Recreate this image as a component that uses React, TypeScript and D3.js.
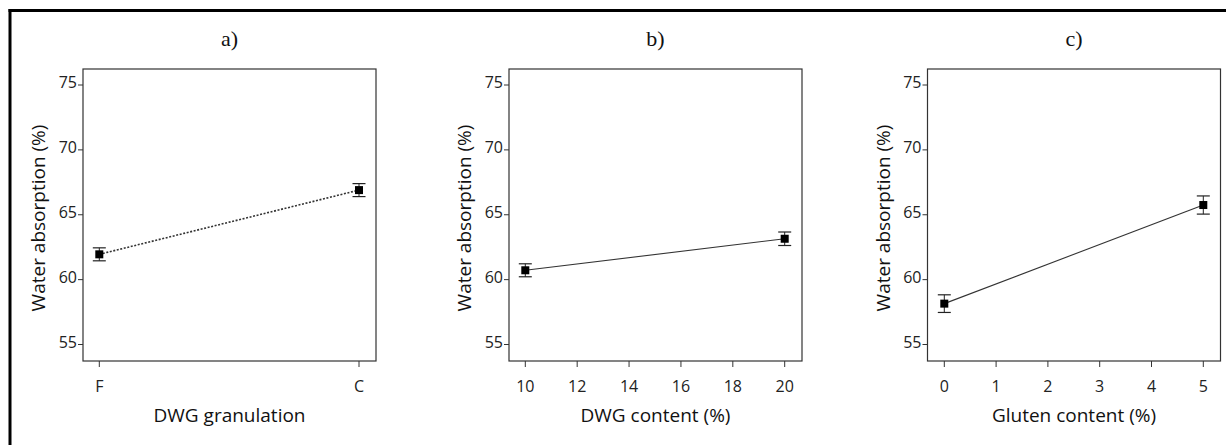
import React from "react";
import * as d3 from "d3";

const panelTitles = ["a)", "b)", "c)"];
const xLabels = ["DWG granulation", "DWG content (%)", "Gluten content (%)"];
const yLabel = "Water absorption (%)";
const yTicks = [55, 60, 65, 70, 75];

const granCategories = ["F", "C"];
const granMeans = [61.95, 66.9];
const granErr = [0.5, 0.5];

const dwgLevels = [10, 20];
const dwgTicks = [10, 12, 14, 16, 18, 20];
const dwgMeans = [60.72, 63.15];
const dwgErr = [0.5, 0.52];

const glutenLevels = [0, 5];
const glutenTicks = [0, 1, 2, 3, 4, 5];
const glutenMeans = [58.15, 65.75];
const glutenErr = [0.68, 0.7];

const W = 1226;
const H = 445;
const sans = "'Open Sans', 'Noto Sans', sans-serif";

type PanelSpec = {
  left: number;
  right: number;
  x0: number;
  x1: number;
  xs: (string | number)[];
  tickVals: (string | number)[];
  means: number[];
  errs: number[];
  dotted: boolean;
  title: string;
  xLabel: string;
};

function Panel({ p }: { p: PanelSpec }) {
  const top = 69;
  const bottom = 361;
  const y = d3.scaleLinear().domain([55, 75]).range([344.5, 85]);
  const x = (v: string | number) => {
    if (typeof v === "string") {
      const i = granCategories.indexOf(v);
      return d3.scaleLinear().domain([0, 1]).range([p.x0, p.x1])(i);
    }
    const dom = p.xs as number[];
    return d3.scaleLinear().domain([dom[0], dom[dom.length - 1]]).range([p.x0, p.x1])(v);
  };
  const line = d3
    .line<number>()
    .x((_, i) => x(p.xs[i]))
    .y((d) => y(d));
  const cx = (p.left + p.right) / 2;
  return (
    <g>
      <text x={cx} y={46} textAnchor="middle" fontFamily="'Liberation Serif', 'Times New Roman', serif" fontSize={22} fill="#111">
        {p.title}
      </text>
      <rect x={p.left} y={top} width={p.right - p.left} height={bottom - top} fill="none" stroke="#333" strokeWidth={1.2} />
      {yTicks.map((t) => (
        <g key={t}>
          <line x1={p.left - 5} x2={p.left} y1={y(t)} y2={y(t)} stroke="#333" strokeWidth={1} />
          <text x={p.left - 6} y={y(t)} dy="0.2em" textAnchor="end" fontFamily={sans} fontSize={16} fill="#222">
            {t}
          </text>
        </g>
      ))}
      {p.tickVals.map((t) => (
        <g key={String(t)}>
          <line x1={x(t)} x2={x(t)} y1={bottom} y2={bottom + 6} stroke="#333" strokeWidth={1} />
          <text x={x(t)} y={392} textAnchor="middle" fontFamily={sans} fontSize={16} fill="#222">
            {t}
          </text>
        </g>
      ))}
      <text
        transform={`translate(${p.left - 38},${(top + bottom) / 2 + 3}) rotate(-90)`}
        textAnchor="middle"
        fontFamily={sans}
        fontSize={19}
        fill="#111"
      >
        {yLabel}
      </text>
      <text x={cx} y={422} textAnchor="middle" fontFamily={sans} fontSize={19} fill="#111">
        {p.xLabel}
      </text>
      <path
        d={line(p.means) || ""}
        fill="none"
        stroke="#333"
        strokeWidth={p.dotted ? 1.6 : 1.1}
        strokeDasharray={p.dotted ? "2,1.6" : undefined}
      />
      {p.means.map((m, i) => {
        const px = x(p.xs[i]);
        const hi = y(m + p.errs[i]);
        const lo = y(m - p.errs[i]);
        return (
          <g key={i}>
            <line x1={px} x2={px} y1={hi} y2={lo} stroke="#222" strokeWidth={1} />
            <line x1={px - 6.5} x2={px + 6.5} y1={hi} y2={hi} stroke="#222" strokeWidth={1.2} />
            <line x1={px - 6.5} x2={px + 6.5} y1={lo} y2={lo} stroke="#222" strokeWidth={1.2} />
            <rect x={px - 4} y={y(m) - 4} width={8} height={8} fill="#000" />
          </g>
        );
      })}
    </g>
  );
}

export default function App() {
  const panels: PanelSpec[] = [
    { left: 83, right: 376, x0: 99.3, x1: 359, xs: granCategories, tickVals: granCategories, means: granMeans, errs: granErr, dotted: true, title: panelTitles[0], xLabel: xLabels[0] },
    { left: 509, right: 802, x0: 525.3, x1: 784.7, xs: dwgLevels, tickVals: dwgTicks, means: dwgMeans, errs: dwgErr, dotted: false, title: panelTitles[1], xLabel: xLabels[1] },
    { left: 927.5, right: 1220.5, x0: 944.3, x1: 1203.3, xs: glutenLevels, tickVals: glutenTicks, means: glutenMeans, errs: glutenErr, dotted: false, title: panelTitles[2], xLabel: xLabels[2] },
  ];
  return (
    <svg width={W} height={H} style={{ position: "absolute", left: 0, top: 0, background: "#fff" }}>
      <rect x={0} y={0} width={W} height={H} fill="#fff" />
      <line x1={8.5} x2={W} y1={10.5} y2={10.5} stroke="#000" strokeWidth={3} />
      <line x1={10} x2={10} y1={9} y2={H} stroke="#000" strokeWidth={3} />
      {panels.map((p, i) => (
        <Panel key={i} p={p} />
      ))}
    </svg>
  );
}
